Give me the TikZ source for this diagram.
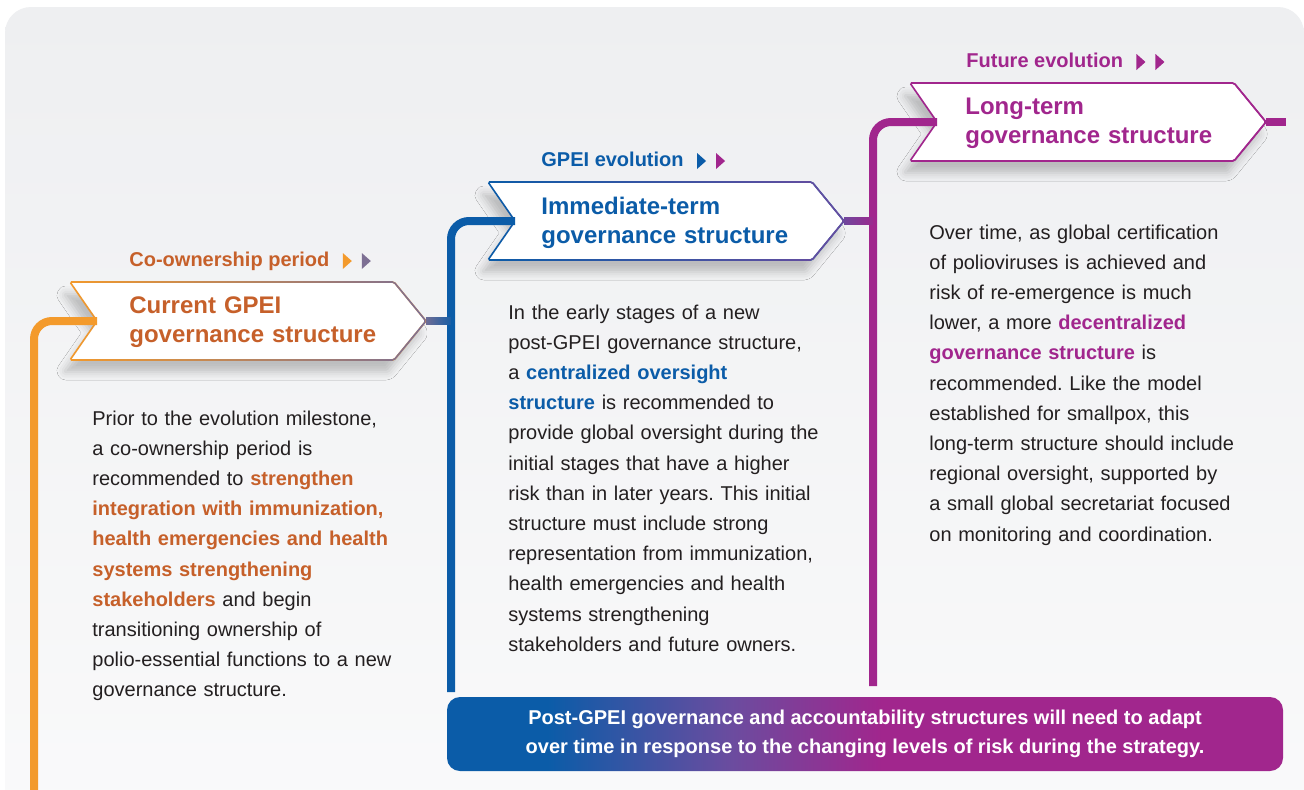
\documentclass[tikz,border=0pt]{standalone}
\usepackage{fontspec}
\setmainfont{Liberation Sans}
\usetikzlibrary{calc,fadings,shadows.blur}
\frenchspacing

\definecolor{gporange}{HTML}{F39A2C}
\definecolor{gprust}{HTML}{C6602A}
\definecolor{gpblue}{HTML}{0B5CA8}
\definecolor{gppurple}{HTML}{A1268D}
\definecolor{gpslate}{HTML}{7D6F93}
\definecolor{gpviolet}{HTML}{6B4C9F}
\definecolor{gpink}{HTML}{231F20}
\definecolor{gpback}{HTML}{EEEFF1}

\tikzfading[name=chevfade, left color=transparent!100, middle color=transparent!100, right color=transparent!0]
\pgfdeclarehorizontalshading{notebar}{100bp}{color(0bp)=(gpblue); color(31bp)=(gpblue); color(42bp)=(gpviolet); color(51bp)=(gppurple); color(100bp)=(gppurple)}

\newcommand{\chevwd}{324}
\newcommand{\chevtip}{32}
% chevron: #1 name, #2 top left corner, #3 edge colour, #4 edge colour at the tip
\newcommand{\prchevron}[4]{
  \coordinate (#1) at (#2);
  \coordinate (#1-in) at ($(#1)+(27,39)$);
  \coordinate (#1-out) at ($(#1)+(\chevwd+\chevtip,39)$);
  \fill[white,chevshadow] (#1) -- ++(\chevwd,0) -- (#1-out) -- ++(-\chevtip,39) -- ++(-\chevwd,0) -- (#1-in) -- cycle;
  \draw[chevedge,#3] (#1) -- ++(\chevwd,0) -- (#1-out) -- ++(-\chevtip,39) -- ++(-\chevwd,0) -- (#1-in) -- cycle;
  \draw[chevedge,#4,path fading=chevfade] (#1) -- ++(\chevwd,0) -- (#1-out) -- ++(-\chevtip,39) -- ++(-\chevwd,0) -- (#1-in) -- cycle;
}
% two small arrow heads behind a label
\newcommand{\prpointers}[3]{
  \fill[#2] ($(#1)+(13,-13)$) -- ++(9,8) -- ++(-9,8) -- cycle;
  \fill[#3] ($(#1)+(32,-13)$) -- ++(9,8) -- ++(-9,8) -- cycle;
}
\newcommand{\hilite}[2]{\textcolor{#1}{\bfseries #2}}

\tikzset{
  link/.style={line width=4pt},
  chevshadow/.style={rounded corners=0.8pt,blur shadow={shadow xshift=-3pt,shadow yshift=-6pt,shadow blur radius=4pt,shadow opacity=22}},
  chevedge/.style={line width=0.8pt,rounded corners=0.8pt},
  tag/.style={inner sep=0pt,anchor=base west,font=\fontsize{10}{12}\selectfont\bfseries},
  heading/.style={inner sep=0pt,anchor=base west,align=left,text width=170pt,font=\fontsize{12}{14.5}\selectfont\bfseries},
  body/.style={inner sep=0pt,anchor=base west,align=left,text width=175pt,text=gpink,font=\fontsize{10}{15.1}\selectfont},
  banner/.style={shade,shading=notebar,rounded corners=6.5pt,minimum width=418pt,minimum height=37pt,
    inner sep=0pt,align=center,text=white,font=\fontsize{10}{14.5}\selectfont\bfseries}
}

\begin{document}
\begin{tikzpicture}[x=0.5pt,y=-0.5pt]

  \useasboundingbox (0,0) rectangle (1304,789);
  \fill[white] (0,0) rectangle (1304,789);
  \shade[top color=gpback,bottom color=white!70!gpback,rounded corners=13pt] (5,7) rectangle (1304,840);

  % feet of the three risers
  \coordinate (cur-foot) at (34,800);
  \coordinate (imm-foot) at (451,692);
  \coordinate (lt-foot) at (873,686);
  \coordinate (lt-end) at (1286,122);

  \prchevron{cur}{70,282}{gporange}{gpslate}
  \prchevron{imm}{488,182}{gpblue}{gpviolet}
  \prchevron{lt}{910,83}{gppurple}{gppurple}

  % risers and links between the stages
  \draw[link,gporange,rounded corners=9pt] (cur-foot) |- (cur-in);
  \draw[link,gpblue,rounded corners=9pt] (imm-foot) |- (imm-in);
  \draw[link,gppurple,rounded corners=9pt] (lt-foot) |- (lt-in);

  \draw[link,gpblue] (cur-out) -- (imm-foot |- cur-out);
  \draw[link,gpslate,path fading=east] (cur-out) -- (imm-foot |- cur-out);
  \draw[link,gppurple] (imm-out) -- (lt-foot |- imm-out);
  \draw[link,gpviolet,path fading=east] (imm-out) -- (lt-foot |- imm-out);
  \draw[link,gppurple] (lt-out) -- (lt-end);

  % stage labels
  \node[tag,text=gprust] (curtag) at (129,266) {Co-ownership period};
  \prpointers{curtag.base east}{gporange}{gpslate}
  \node[tag,text=gpblue] (immtag) at (541,166) {GPEI evolution};
  \prpointers{immtag.base east}{gpblue}{gppurple}
  \node[tag,text=gppurple] (lttag) at (966,67) {Future evolution};
  \prpointers{lttag.base east}{gppurple}{gppurple}

  % chevron titles
  \node[heading,text=gprust] (curtitle) at (129,313) {Current GPEI\\governance structure};
  \node[heading,text=gpblue] (immtitle) at (541,214) {Immediate-term\\governance structure};
  \node[heading,text=gppurple] (lttitle) at (965,114) {Long-term\\governance structure};

  % descriptions
  \node[body] (curtext) at (92,425) {Prior to the evolution milestone,\\
    a co-ownership period is\\
    recommended to \hilite{gprust}{strengthen}\\
    \hilite{gprust}{integration with immunization,}\\
    \hilite{gprust}{health emergencies and health}\\
    \hilite{gprust}{systems strengthening}\\
    \hilite{gprust}{stakeholders} and begin\\
    transitioning ownership of\\
    polio-essential functions to a new\\
    governance structure.};

  \node[body] (immtext) at (508,319) {In the early stages of a new\\
    post-GPEI governance structure,\\
    a \hilite{gpblue}{centralized oversight}\\
    \hilite{gpblue}{structure} is recommended to\\
    provide global oversight during the\\
    initial stages that have a higher\\
    risk than in later years. This initial\\
    structure must include strong\\
    representation from immunization,\\
    health emergencies and health\\
    systems strengthening\\
    stakeholders and future owners.};

  \node[body] (lttext) at (929,239) {Over time, as global certification\\
    of polioviruses is achieved and\\
    risk of re-emergence is much\\
    lower, a more \hilite{gppurple}{decentralized}\\
    \hilite{gppurple}{governance structure} is\\
    recommended. Like the model\\
    established for smallpox, this\\
    long-term structure should include\\
    regional oversight, supported by\\
    a small global secretariat focused\\
    on monitoring and coordination.};

  \node[banner] (note) at (865,734) {Post-GPEI governance and accountability structures will need to adapt\\
    over time in response to the changing levels of risk during the strategy.};

\end{tikzpicture}
\end{document}
